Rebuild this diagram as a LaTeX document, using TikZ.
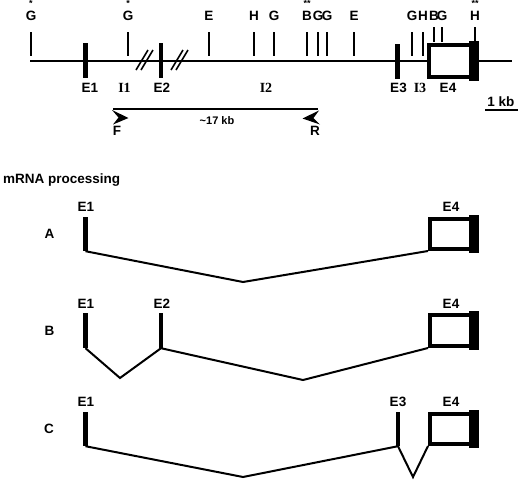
\documentclass[tikz,border=0pt]{standalone}
\usepackage{fontspec}
\setmainfont{Liberation Sans}
\newfontfamily\serifI{Liberation Serif}
\begin{document}
\begin{tikzpicture}[x=1pt,y=-1pt,
  lab/.style={font=\bfseries\fontsize{13.5}{15}\selectfont, inner sep=0pt, anchor=base},
  smalllab/.style={font=\bfseries\fontsize{11}{12}\selectfont, inner sep=0pt, anchor=base},
  ilab/.style={font=\serifI\bfseries\fontsize{14}{15}\selectfont, inner sep=0pt, anchor=base},
  starlab/.style={font=\bfseries\fontsize{9}{9}\selectfont, inner sep=0pt, anchor=base},
  tick/.style={line width=2pt},
  gene/.style={line width=2.2pt},
  splice/.style={line width=2pt, line join=miter},
  exon/.style={fill=black, draw=none, inner sep=0pt, minimum width=5pt, minimum height=35pt},
  ebox/.style={draw, line width=4pt, fill=white, inner sep=0pt, line join=miter, minimum width=45pt, minimum height=30pt},
  slash/.style={line width=1.6pt},
]
\useasboundingbox (0,0) rectangle (520,480);

% ---------- gene map ----------
\coordinate (gL) at (30,61);
\coordinate (gR) at (512,61);
\draw[gene] (gL) -- (gR);

% break marks
\draw[slash] (136,70) -- (148,50);
\draw[slash] (141,70) -- (153,50);
\draw[slash] (171,70) -- (183,50);
\draw[slash] (176,70) -- (188,50);

% restriction sites
\foreach \x/\t/\s [count=\i] in {31/G/0, 128/G/0, 209/E/0, 254/H/0, 274/G/0, 307/B/0, 318/G/0, 327/G/0, 354/E/0, 412/G/0, 423/H/0, 434/B/1, 442/G/1, 475/H/1} {
  \node[lab] (site\i) at (\x,20.5) {\t};
  \ifnum\s=0 \draw[tick] (\x,32) -- (\x,56); \else \draw[tick] (\x,27) -- (\x,42); \fi
}
\node[starlab] (st1) at (31,6.8) {*};
\node[starlab] (st2) at (128,6.8) {*};
\node[starlab] (st3) at (307,6.8) {**};
\node[starlab] (st4) at (475,6.8) {**};

% exons
\node[exon] (g1) at (85.5,60.5) {};
\node[exon, minimum width=4.5pt] (g2) at (161,60.5) {};
\node[exon, minimum width=4.5pt] (g3) at (397.5,61) {};
\node[ebox, minimum width=46pt, minimum height=32pt] (g4) at (452,61) {};
\fill ([xshift=-8pt,yshift=2pt]g4.north east) rectangle ([xshift=2pt,yshift=-2pt]g4.south east);

% labels under the map
\node[lab] (lE1) at (90,92) {E1};
\node[ilab] (lI1) at (124.5,92) {I1};
\node[lab] (lE2) at (162,92) {E2};
\node[ilab] (lI2) at (266,92) {I2};
\node[lab] (lE3) at (398.5,92) {E3};
\node[ilab] (lI3) at (420,92) {I3};
\node[lab] (lE4) at (448,92) {E4};

% scale bar
\node[lab] (kb) at (501,106) {1 kb};
\coordinate (sbL) at (485,110);
\coordinate (sbR) at (518,110);
\draw[gene] (sbL) -- (sbR);

% PCR primers
\coordinate (pF) at (113,109);
\coordinate (pR) at (318,109);
\draw[gene] (pF) -- (pR);
\fill (112,110) -- (128.5,118) -- (113,124.5) -- (118.5,117.5) -- cycle;
\fill (319,110.5) -- (302.5,118.5) -- (320,124.5) -- (313.5,118) -- cycle;
\node[smalllab] (len) at (217,124) {\textasciitilde17 kb};
\node[lab] (lF) at (117,135.5) {F};
\node[lab] (lR) at (315,135.5) {R};

% ---------- mRNA processing ----------
\node[lab, anchor=base west] (title) at (3,183) {mRNA processing};

% row A
\node[lab] (rA) at (49.5,238.5) {A};
\node[lab] (aE1) at (86,211) {E1};
\node[lab] (aE4) at (451,211) {E4};
\node[exon, minimum height=34pt] (a1) at (85.5,234) {};
\coordinate (aDip) at (243,282);
\node[ebox, draw=none, fill=none] (a4) at (452.5,234) {};
\draw[splice] (a1.south) -- (aDip) -- (a4.south west);
\node[ebox] (a4b) at (452.5,234) {};
\fill ([xshift=-8.5pt,yshift=2pt]a4b.north east) rectangle ([xshift=2pt,yshift=-2pt]a4b.south east);

% row B
\node[lab] (rB) at (49.5,335) {B};
\node[lab] (bE1) at (86,308) {E1};
\node[lab] (bE2) at (162,308) {E2};
\node[lab] (bE4) at (451,308) {E4};
\node[exon] (b1) at (85.5,330.5) {};
\node[exon, minimum width=4.5pt] (b2) at (161,330.5) {};
\coordinate (bDip1) at (120,378);
\coordinate (bDip2) at (303,380);
\node[ebox, minimum height=31pt, draw=none, fill=none] (b4) at (452.5,330.5) {};
\draw[splice] (b1.south) -- (bDip1) -- (b2.south) -- (bDip2) -- (b4.south west);
\node[ebox, minimum height=31pt] (b4b) at (452.5,330.5) {};
\fill ([xshift=-8.5pt,yshift=2pt]b4b.north east) rectangle ([xshift=2pt,yshift=-2pt]b4b.south east);

% row C
\node[lab] (rC) at (49,433) {C};
\node[lab] (cE1) at (86,406) {E1};
\node[lab] (cE3) at (398,406) {E3};
\node[lab] (cE4) at (451,406) {E4};
\node[exon, minimum height=34pt] (c1) at (85.5,429) {};
\node[exon, minimum width=4.5pt, minimum height=34pt] (c3) at (398,429) {};
\coordinate (cDip1) at (243,477);
\coordinate (cDip2) at (413,477);
\node[ebox, draw=none, fill=none] (c4) at (452.5,429) {};
\draw[splice] (c1.south) -- (cDip1) -- (c3.south) -- (cDip2) -- (c4.south west);
\node[ebox] (c4b) at (452.5,429) {};
\fill ([xshift=-8.5pt,yshift=2pt]c4b.north east) rectangle ([xshift=2pt,yshift=-2pt]c4b.south east);
\end{tikzpicture}
\end{document}
